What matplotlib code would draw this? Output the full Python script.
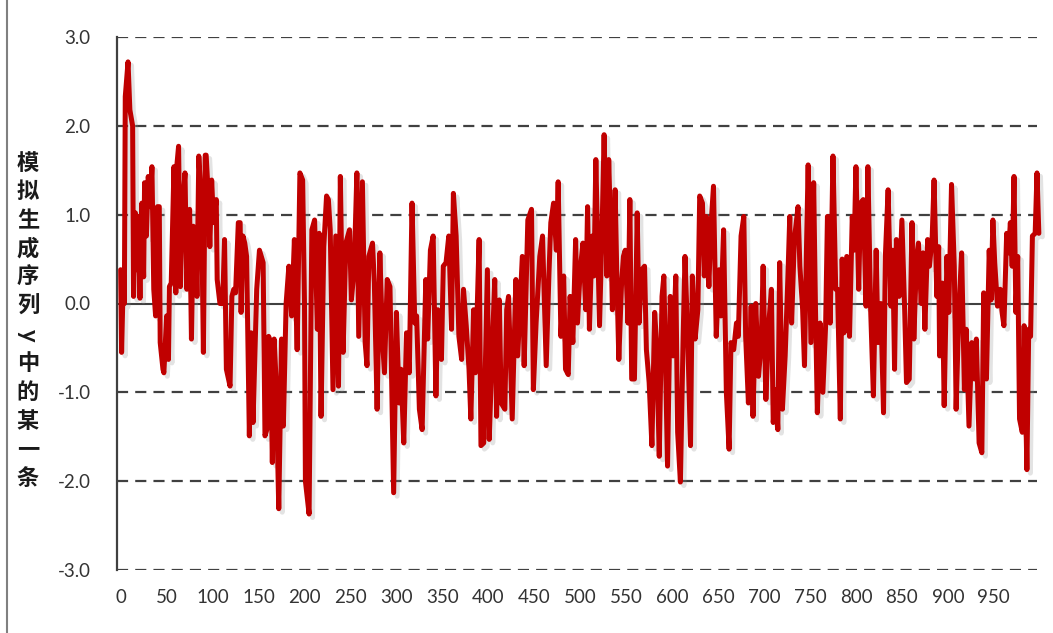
import matplotlib
matplotlib.use("Agg")
import matplotlib.pyplot as plt
import matplotlib.patheffects as pe
from matplotlib.lines import Line2D

# 采样点 (序号, 数值)
sample_idx = [
    0, 1, 3, 4, 5, 8, 10, 13, 14, 16, 17, 19, 21, 23, 25, 26, 28, 30, 32, 34,
    36, 38, 40, 42, 43, 46, 47, 50, 52, 53, 55, 58, 60, 61, 63, 65, 67, 70, 72, 75,
    77, 79, 82, 83, 85, 88, 90, 92, 93, 95, 97, 99, 101, 104, 105, 108, 111, 113, 115, 119,
    121, 123, 125, 128, 130, 131, 133, 135, 137, 140, 142, 144, 148,
    151, 155, 157, 159, 161, 163, 165, 167, 169, 172, 175, 177, 180, 183, 186, 189, 192, 195,
    198, 200, 201, 205, 208, 211, 214, 216, 218, 221, 224, 226, 228, 231, 234, 237, 239, 242,
    245, 249, 251, 254, 257, 259, 263, 266, 268, 270, 274, 276, 279, 282, 285, 287, 290, 293,
    297, 300, 303, 305, 308, 311, 314,
    317, 320, 322, 325, 328, 332, 334, 337, 340, 343, 345, 349, 351, 354, 357, 360, 362, 365,
    368, 371, 373, 376, 379, 381, 384, 386, 390, 392, 395, 399, 401, 404, 407, 409, 412, 414,
    418, 420, 422, 426, 430, 432, 437, 439, 443, 447, 449, 452, 456, 459, 463, 466, 468, 471,
    474, 476, 479,
    482, 484, 487, 489, 492, 495, 497, 500, 503, 506, 508, 510, 513, 515, 517, 519, 521, 524,
    526, 529, 531, 534, 535, 538, 540, 542, 545, 547, 549, 552, 554, 556, 559, 562, 564, 567,
    570, 572, 575, 578, 581, 583, 586, 589, 591, 593, 595, 598, 601, 604, 606, 609, 612, 614,
    617, 620, 622, 625, 628, 630, 633, 635, 637, 640, 642, 645, 648,
    651, 653, 656, 659, 662, 664, 667, 670, 672, 675, 678, 680, 683, 686, 688, 691, 694, 697,
    699, 702, 705, 708, 710, 713, 715, 717, 720, 723, 726, 728, 730, 733, 737, 739, 742, 744,
    746, 748, 751, 754, 756, 758, 761, 764, 767, 769, 772, 775, 778, 780, 783, 785, 787, 790,
    793, 796, 798, 800, 803, 805, 808, 811, 813,
    816, 819, 822, 824, 827, 830, 832, 835, 838, 840, 842, 844, 847, 850, 853, 855, 858, 861,
    863, 866, 868, 871, 873, 875, 878, 880, 883, 885, 888, 890, 891, 894, 896, 899, 901, 904,
    907, 909, 912, 915, 918, 920, 923, 926, 929, 931, 934, 937, 939, 942, 945, 947, 949, 951,
    954, 957, 959, 961, 964, 966, 968, 970, 972, 974, 976, 978, 981, 983, 986, 988, 990, 992,
    995, 997, 999,
]
sample_val = [
    0.38, -0.55, 0.35, 0.0, 2.33, 2.72, 2.18, 2.0, 0.08, 1.02, 0.38, 0.98, 0.06, 1.13, 0.3, 1.36, 0.76, 1.43, 1.09, 1.54,
    0.16, -0.14, 1.09, 1.09, -0.44, -0.74, -0.78, -0.14, -0.63, 0.19, 0.23, 1.54, 0.12, 1.54, 1.77, 0.19, 1.06, 1.47, 0.16, 1.06,
    -0.4, 0.87, 0.53, 0.08, 1.66, 1.06, -0.55, 1.67, 1.67, 1.28, 0.64, 1.39, 0.91, 1.17, 0.27, 0.0, 0.0, 0.72, -0.74, -0.93,
    0.08, 0.16, 0.12, 0.91, 0.91, -0.1, 0.76, 0.68, 0.53, -1.49, -0.33, -1.34, 0.16,
    0.6, 0.46, -1.49, -1.42, -0.37, -0.44, -1.79, -0.4, -0.85, -2.31, -0.4, -1.38, 0.0, 0.42, -0.14, 0.72, -0.52, 1.47,
    1.39, 0.0, -2.0, -2.37, 0.83, 0.94, -0.29, 0.79, -1.27, 0.64, 1.21, 1.17, 0.83, -0.97, 0.76, -0.93, 1.43, -0.55,
    0.68, 0.83, 0.04, 0.38, 1.47, -0.37, 1.37, -0.44, -0.7, 0.53, 0.68, 0.23, -1.19, 0.57, -0.44, -0.78, 0.27, 0.19,
    -2.13, -0.1, -1.12, -0.74, -1.57, -0.33, -0.78,
    1.13, -0.22, -0.14, -1.19, -1.42, 0.27, -0.4, 0.6, 0.76, -1.04, -0.07, -0.63, 0.42, 0.46, 0.76, -0.29, 1.24, 0.76,
    -0.37, -0.63, 0.16, -0.25, -0.74, -1.3, -0.07, -0.78, 0.72, -1.6, -1.57, 0.38, -1.53, -0.59, 0.27, -1.27, 0.04, -1.12,
    -1.19, -0.07, 0.08, -1.3, 0.27, -0.59, 0.53, -0.7, 0.94, 1.06, -0.97, -0.22, 0.53, 0.76, -0.7, 0.34, 0.91, 1.13,
    0.6, 1.37, -0.37,
    0.31, -0.74, -0.8, 0.08, -0.44, 0.72, -0.22, 0.38, 0.68, -0.07, 1.09, -0.29, 0.76, 0.31, 1.62, 0.68, -0.25, 0.94,
    1.9, 0.31, 1.62, 0.46, -0.07, 1.28, 0.23, -0.63, 0.23, 0.53, 0.6, -0.22, 1.17, -0.85, -0.85, 1.02, -0.22, 0.38,
    0.42, -0.52, -0.89, -1.6, -0.1, -0.44, -1.72, 0.08, 0.31, -0.74, -1.83, 0.08, -0.59, 0.31, -1.45, -2.01, -0.37, 0.53,
    -0.4, -1.6, 0.31, -0.4, -0.07, 1.21, 1.13, 0.31, 0.98, 0.19, 0.83, 1.32, -0.37,
    0.38, -0.14, 0.83, -1.0, -1.64, -0.44, -0.52, -0.22, -0.37, 0.76, 0.98, -0.37, -1.12, -0.03, -1.27, 0.0, -0.82, -0.44,
    0.42, -1.08, -0.25, 0.16, -1.34, -0.97, -1.42, 0.46, -1.19, -0.59, 0.31, 0.98, -0.22, 0.72, 1.09, 0.42, -0.07, -0.7,
    0.53, 1.56, -0.44, 1.36, -0.07, -1.23, -0.22, -1.0, -0.25, 0.98, -0.22, 1.66, 0.16, 0.16, -1.3, 0.5, -0.33, 0.53,
    -0.37, 0.98, 0.6, 1.54, 0.16, 1.13, 1.17, -0.03, 1.54,
    -0.07, -1.04, 0.6, -0.44, 0.0, -1.23, 0.53, 1.28, -0.03, 0.6, -0.74, 0.72, 0.08, 0.94, -0.07, -0.89, -0.85, 0.91,
    -0.4, 0.53, 0.68, 0.0, 0.57, -0.29, 0.72, 0.42, 0.76, 1.39, 0.08, 0.64, -0.59, 0.23, -1.15, 0.53, -0.1, 1.34,
    0.42, -1.19, -0.07, 0.57, -0.97, -0.29, -1.38, -0.44, -0.85, -0.4, -1.57, -1.68, 0.12, -0.85, 0.6, 0.04, 0.94, 0.46,
    -0.03, 0.16, -0.1, -0.25, 0.79, 0.57, 0.91, 0.42, 1.43, -0.1, 0.53, -1.3, -1.45, -0.25, -1.87, -0.29, -0.37, 0.76,
    0.79, 1.47, 0.79,
]
assert len(sample_idx) == len(sample_val)

y_ticks = [-3.0, -2.0, -1.0, 0.0, 1.0, 2.0, 3.0]
x_ticks = list(range(0, 1000, 50))
y_label = "模拟生成序列y中的某一条"

W, H = 1053, 633
axis_color = "#404040"
line_color = "#C00000"

fig = plt.figure(figsize=(W / 100, H / 100), dpi=100)
ax = fig.add_axes([117 / W, 1 - 570 / H, (1037 - 117) / W, (570 - 37) / H])

# 网格线: 0 为实线, 其余虚线
for v in y_ticks:
    if v == 0:
        ax.axhline(v, color=axis_color, lw=1.5, zorder=1)
    else:
        ax.axhline(v, color=axis_color, lw=1.6, dashes=(5, 3.2), zorder=1)

ax.plot(sample_idx, sample_val, color=line_color, lw=3.6,
        solid_joinstyle="round", solid_capstyle="round", clip_on=False, zorder=3,
        path_effects=[pe.SimpleLineShadow(offset=(2.5, -2.5), shadow_color="#909090",
                                          alpha=0.25, rho=1.0),
                      pe.Normal()])

ax.set_xlim(-4, 997)
ax.set_ylim(-3, 3)
ax.set_yticks(y_ticks)
ax.set_yticklabels([f"{v:.1f}" for v in y_ticks])
ax.set_xticks(x_ticks)
ax.set_xticklabels([str(v) for v in x_ticks])

for side in ["top", "right", "bottom"]:
    ax.spines[side].set_visible(False)
ax.spines["left"].set_color(axis_color)
ax.spines["left"].set_linewidth(1.6)

ax.tick_params(axis="y", length=0, pad=19, labelsize=13.5, labelcolor="#333333")
ax.tick_params(axis="x", length=0, pad=14, labelsize=13.5, labelcolor="#333333")
for lab in ax.get_xticklabels() + ax.get_yticklabels():
    lab.set_family(["Lato", "DejaVu Sans"])

# 竖排的 y 轴标题, 每个字单独放
y0, step = 163, 28.7
for i, ch in enumerate(y_label):
    yy = 1 - (y0 + i * step) / H
    if ch.isascii():
        fig.text(28 / W, yy, ch, rotation=-90, ha="center", va="center",
                 fontsize=17, fontweight="bold", family=["Lato", "DejaVu Sans"],
                 color="#1a1a1a")
    else:
        fig.text(28 / W, yy, ch, ha="center", va="center", fontsize=16,
                 fontweight="bold", family=["Noto Sans CJK SC", "DejaVu Sans"],
                 color="#1a1a1a")

# 截图左侧的灰色边框
fig.add_artist(Line2D([7 / W, 7 / W], [0, 1], color="#808080", lw=1.5))

fig.savefig("out.png", dpi=100)
